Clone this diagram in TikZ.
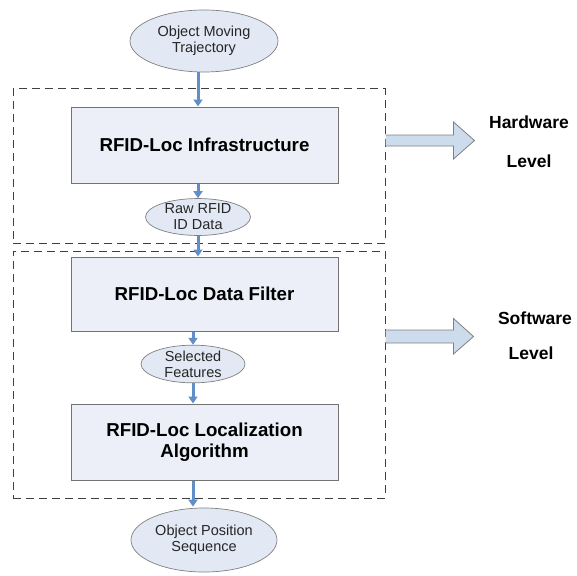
\documentclass[tikz,border=0pt]{standalone}
\usepackage{fontspec}
\setmainfont{Liberation Sans}
\usetikzlibrary{arrows.meta,shapes.geometric}
\definecolor{boxfill}{RGB}{236,239,248}
\definecolor{ellfill}{RGB}{226,233,245}
\definecolor{flowblue}{RGB}{98,142,200}
\definecolor{levfill}{RGB}{205,220,237}
\begin{document}
\begin{tikzpicture}[x=1pt,y=-1pt,
  stepbox/.style={draw=black!55, line width=1pt, fill=boxfill, inner sep=0pt,
    minimum width=267pt, minimum height=76pt, align=center,
    font=\fontsize{18.7}{20.5}\selectfont\bfseries},
  dataell/.style={ellipse, draw=black!50, line width=0.7pt, fill=ellfill, inner sep=0pt,
    align=center, text=black!85, font=\fontsize{14.5}{16}\selectfont},
  levelbox/.style={draw=black!75, line width=1pt, dash pattern=on 8pt off 5pt},
  flow/.style={draw=flowblue, line width=3pt, -{Triangle[width=9pt,length=7pt]}},
  levarrow/.style={draw=black!50, line width=0.8pt, fill=levfill},
  leveltxt/.style={font=\fontsize{17.5}{18}\selectfont\bfseries}]
\useasboundingbox (0,0) rectangle (577,575);
\node[levelbox, minimum width=372pt, minimum height=154pt] (hw) at (199,166){};
\node[levelbox, minimum width=372pt, minimum height=247pt] (sw) at (199,374.5){};
\node[dataell, minimum width=148pt, minimum height=62pt] (omt) at (204,41){Object Moving\\Trajectory};
\node[stepbox] (infra) at (204.5,145){RFID-Loc Infrastructure};
\node[dataell, minimum width=105pt, minimum height=36pt] (raw) at (198,217){Raw RFID\\ID Data};
\node[stepbox, minimum height=74pt] (filter) at (204.5,294){RFID-Loc Data Filter};
\node[dataell, minimum width=104pt, minimum height=36pt] (sel) at (193,364){Selected\\Features};
\node[stepbox] (loc) at (204.5,442){RFID-Loc Localization\\Algorithm};
\node[dataell, minimum width=146pt, minimum height=64pt] (ops) at (204,540){Object Position\\Sequence};
\draw[flow] (omt.south -| raw) -- (infra.north -| raw);
\draw[flow] (infra.south -| raw) -- (raw.north);
\draw[flow] (raw.south) -- (filter.north -| raw);
\draw[flow] (filter.south -| sel) -- (sel.north);
\draw[flow] (sel.south) -- (loc.north -| sel);
\draw[flow] (loc.south -| sel) -- ([yshift=1pt]ops.north -| sel);
% level arrows
\coordinate (hwa) at (hw.east |- 0,140.5);
\coordinate (swa) at (sw.east |- 0,336.5);
\draw[levarrow] (hwa) ++(0,-5.5) -- ++(68,0) -- ++(0,-13) -- ++(21,18.5) -- ++(-21,18.5) -- ++(0,-13) -- ++(-68,0);
\draw[levarrow] (swa) ++(0,-6.5) -- ++(68,0) -- ++(0,-11.5) -- ++(20,18) -- ++(-20,17.5) -- ++(0,-11) -- ++(-68,0);
\node[leveltxt] (hwt) at (529,122){Hardware};
\node[leveltxt] (hwl) at (529,161){Level};
\node[leveltxt] (swt) at (535,318){Software};
\node[leveltxt] (swl) at (531,353){Level};
\end{tikzpicture}
\end{document}
